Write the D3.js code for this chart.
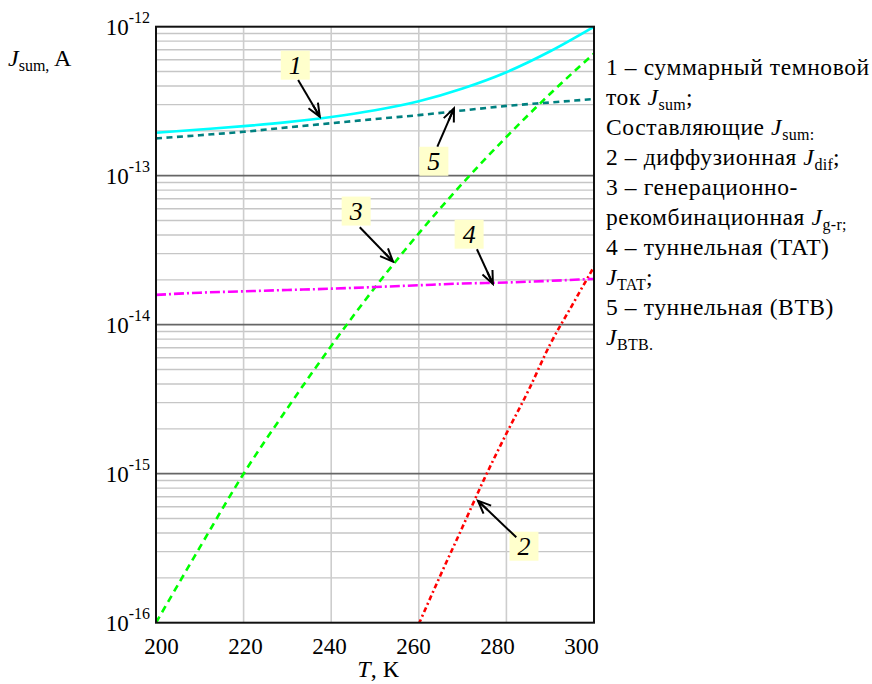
<!DOCTYPE html>
<html>
<head>
<meta charset="utf-8">
<script src="https://cdn.jsdelivr.net/npm/d3@7"></script>
<style>
  body { margin: 0; background: #fff; }
  svg { display: block; }
</style>
</head>
<body>
<svg id="chart" width="872" height="684"></svg>
<script>
// Temperature grid, K
const temps = [200, 210, 220, 230, 240, 250, 260, 270, 280, 290, 300];
// 1 – total dark current J_sum, A
const jSum = [1.94e-13, 2.04e-13, 2.15e-13, 2.29e-13, 2.48e-13, 2.75e-13, 3.16e-13, 3.85e-13, 4.95e-13, 6.84e-13, 1.0e-12];
// 5 – band-to-band tunnelling J_BTB, A
const jBtb = [1.78e-13, 1.87e-13, 1.97e-13, 2.11e-13, 2.25e-13, 2.40e-13, 2.55e-13, 2.74e-13, 2.94e-13, 3.10e-13, 3.27e-13];
// 4 – trap-assisted tunnelling J_TAT, A
const jTat = [1.585e-14, 1.64e-14, 1.675e-14, 1.71e-14, 1.745e-14, 1.79e-14, 1.84e-14, 1.89e-14, 1.92e-14, 1.97e-14, 2.03e-14];
// 3 – generation-recombination J_g-r, A
const jGr = [1.0e-16, 3.2e-16, 1.0e-15, 2.75e-15, 7.2e-15, 1.78e-14, 4.1e-14, 8.9e-14, 1.82e-13, 3.55e-13, 6.6e-13];
// 2 – diffusion J_dif, A
const tempsDif = [260, 265, 270, 275, 280, 285, 290, 295, 300];
const jDif = [9.8e-17, 2.1e-16, 4.4e-16, 9.3e-16, 1.86e-15, 3.6e-15, 7.4e-15, 1.35e-14, 2.45e-14];

const xTicks = [200, 220, 240, 260, 280, 300];
const yDecades = [-16, -15, -14, -13, -12];

// Numbered callouts: label centre, arrow tail and arrow tip in (T, J)
const callouts = [
  { n: "1", label: [231.8, 5.52e-13], tail: [232.45, 4.39e-13], tip: [237.4, 2.49e-13] },
  { n: "5", label: [263.44, 1.25e-13], tail: [264.24, 1.567e-13], tip: [268.03, 2.83e-13] },
  { n: "3", label: [245.7, 5.79e-14], tail: [246.52, 4.51e-14], tip: [254.12, 2.65e-14] },
  { n: "4", label: [271.49, 4.05e-14], tail: [273.27, 3.21e-14], tip: [276.92, 1.875e-14] },
  { n: "2", label: [284.01, 3.26e-16], tail: [282.26, 3.74e-16], tip: [273.5, 6.59e-16] }
];

// Legend text, one entry per line; segments: plain, italic, subscript
const legendLines = [
  [["1 – суммарный темновой"]],
  [["ток "], ["J", "i"], ["sum", "s"], [";"]],
  [["Составляющие "], ["J", "i"], ["sum:", "s"]],
  [["2 – диффузионная "], ["J", "i"], ["dif", "s"], [";"]],
  [["3 – генерационно-"]],
  [["рекомбинационная "], ["J", "i"], ["g-r;", "s"]],
  [["4 – туннельная (TAT)"]],
  [["J", "i"], ["TAT", "s"], [";"]],
  [["5 – туннельная (BTB)"]],
  [["J", "i"], ["BTB.", "s"]]
];

const fontStack = "'Liberation Serif', 'DejaVu Serif', 'Liberation Sans', Arial, sans-serif";

const svg = d3.select("#chart").attr("font-family", fontStack);
const plotLeft = 156, plotRight = 594, plotTop = 26.7, plotBottom = 622.7;

const x = d3.scaleLinear().domain([200, 300]).range([plotLeft, plotRight]);
const y = d3.scaleLog().domain([1e-16, 1e-12]).range([plotBottom, plotTop]);

const defs = svg.append("defs");
defs.append("clipPath").attr("id", "plotClip")
  .append("rect").attr("x", plotLeft).attr("y", plotTop)
  .attr("width", plotRight - plotLeft).attr("height", plotBottom - plotTop);

// Minor horizontal grid
const minor = [];
yDecades.slice(0, -1).forEach(d => { for (let m = 2; m <= 9; m++) minor.push(m * Math.pow(10, d)); });
svg.append("g").selectAll("line").data(minor).join("line")
  .attr("x1", plotLeft).attr("x2", plotRight)
  .attr("y1", d => y(d)).attr("y2", d => y(d))
  .attr("stroke", "#c6c6c6").attr("stroke-width", 1.4);

// Vertical grid
svg.append("g").selectAll("line").data(xTicks.slice(1, -1)).join("line")
  .attr("x1", d => x(d)).attr("x2", d => x(d))
  .attr("y1", plotTop).attr("y2", plotBottom)
  .attr("stroke", "#cdcdcd").attr("stroke-width", 1.6);

// Decade lines
svg.append("g").selectAll("line").data(yDecades.slice(1, -1)).join("line")
  .attr("x1", plotLeft).attr("x2", plotRight)
  .attr("y1", d => y(Math.pow(10, d))).attr("y2", d => y(Math.pow(10, d)))
  .attr("stroke", "#666").attr("stroke-width", 1.8);

// Curves
const line = d3.line().x(d => x(d[0])).y(d => y(d[1])).curve(d3.curveMonotoneX);
const series = [
  { t: temps, v: jGr, color: "#00ff00", dash: "7,5" },
  { t: tempsDif, v: jDif, color: "#ff0000", dash: "5,3,2,3" },
  { t: temps, v: jTat, color: "#ff00ff", dash: "10,3,2,3" },
  { t: temps, v: jBtb, color: "#008080", dash: "6,4.5" },
  { t: temps, v: jSum, color: "#00ffff", dash: null }
];
const curves = svg.append("g").attr("clip-path", "url(#plotClip)");
series.forEach(s => {
  curves.append("path")
    .datum(s.t.map((t, i) => [t, s.v[i]]))
    .attr("d", line)
    .attr("fill", "none")
    .attr("stroke", s.color)
    .attr("stroke-width", 2.6)
    .attr("stroke-dasharray", s.dash);
});

// Frame
svg.append("rect").attr("x", plotLeft).attr("y", plotTop)
  .attr("width", plotRight - plotLeft).attr("height", plotBottom - plotTop)
  .attr("fill", "none").attr("stroke", "#111").attr("stroke-width", 2);

// X axis labels
const xAxis = d3.axisBottom(x).tickValues(xTicks).tickSize(0).tickPadding(0).tickFormat(d3.format("d"));
const gx = svg.append("g").attr("transform", `translate(0,${plotBottom})`).call(xAxis)
  .attr("font-family", fontStack).attr("font-size", 23);
gx.select(".domain").remove();
gx.selectAll(".tick text")
  .attr("y", 31).attr("dy", 0)
  .attr("dx", (d, i) => 5 - i * 3.6)
  .attr("fill", "#000");

// Y axis labels: powers of ten
const yAxis = d3.axisLeft(y).tickValues(yDecades.map(d => Math.pow(10, d))).tickSize(0).tickPadding(0).tickFormat("");
const gy = svg.append("g").attr("transform", `translate(${plotLeft},0)`).call(yAxis)
  .attr("font-family", fontStack).attr("font-size", 23);
gy.select(".domain").remove();
gy.selectAll(".tick text").remove();
gy.selectAll(".tick").append("text")
  .attr("x", -6).attr("y", 8)
  .attr("text-anchor", "end")
  .attr("fill", "#000")
  .each(function (d) {
    const t = d3.select(this);
    t.append("tspan").text("10");
    t.append("tspan").attr("dy", -12).attr("font-size", 16).text(Math.round(Math.log10(d)));
  });

// Axis titles
const yTitle = svg.append("text").attr("x", 8).attr("y", 66).attr("font-size", 24);
yTitle.append("tspan").attr("font-style", "italic").text("J");
yTitle.append("tspan").attr("dy", 5).attr("font-size", 16).text("sum,");
yTitle.append("tspan").attr("dy", -5).text(" A");

const xTitle = svg.append("text").attr("x", 378).attr("y", 677).attr("text-anchor", "middle").attr("font-size", 24);
xTitle.append("tspan").attr("font-style", "italic").text("T");
xTitle.append("tspan").text(", К");

// Callouts
defs.append("marker")
  .attr("id", "arrowHead").attr("viewBox", "-14 -7 16 14")
  .attr("refX", 0).attr("refY", 0)
  .attr("markerWidth", 16).attr("markerHeight", 14)
  .attr("markerUnits", "userSpaceOnUse").attr("orient", "auto")
  .append("path").attr("d", "M-13,-5.5 L0,0 L-13,5.5 M-13,0 L0,0")
  .attr("fill", "none").attr("stroke", "#000").attr("stroke-width", 2);

const cg = svg.append("g");
callouts.forEach(c => {
  const cx = x(c.label[0]), cy = y(c.label[1]);
  cg.append("rect").attr("x", cx - 14.5).attr("y", cy - 14.5)
    .attr("width", 29).attr("height", 29).attr("fill", "#ffffcc");
  cg.append("text").attr("x", cx).attr("y", cy + 9)
    .attr("text-anchor", "middle").attr("font-size", 26).attr("font-style", "italic")
    .text(c.n);
  cg.append("line")
    .attr("x1", x(c.tail[0])).attr("y1", y(c.tail[1]))
    .attr("x2", x(c.tip[0])).attr("y2", y(c.tip[1]))
    .attr("stroke", "#000").attr("stroke-width", 2)
    .attr("marker-end", "url(#arrowHead)");
});

// Legend
const lg = svg.append("g");
legendLines.forEach((segs, i) => {
  const t = lg.append("text").attr("x", 606).attr("y", 75 + i * 30)
    .attr("font-size", 23.5).attr("letter-spacing", 0.6);
  let sub = false;
  segs.forEach(([txt, kind]) => {
    const ts = t.append("tspan").text(txt);
    if (kind === "i") ts.attr("font-style", "italic");
    if (kind === "s") {
      ts.attr("font-size", 16).attr("letter-spacing", 0.3);
      if (!sub) ts.attr("dy", 5);
      sub = true;
    } else if (sub) {
      ts.attr("dy", -5);
      sub = false;
    }
  });
});
</script>
</body>
</html>
